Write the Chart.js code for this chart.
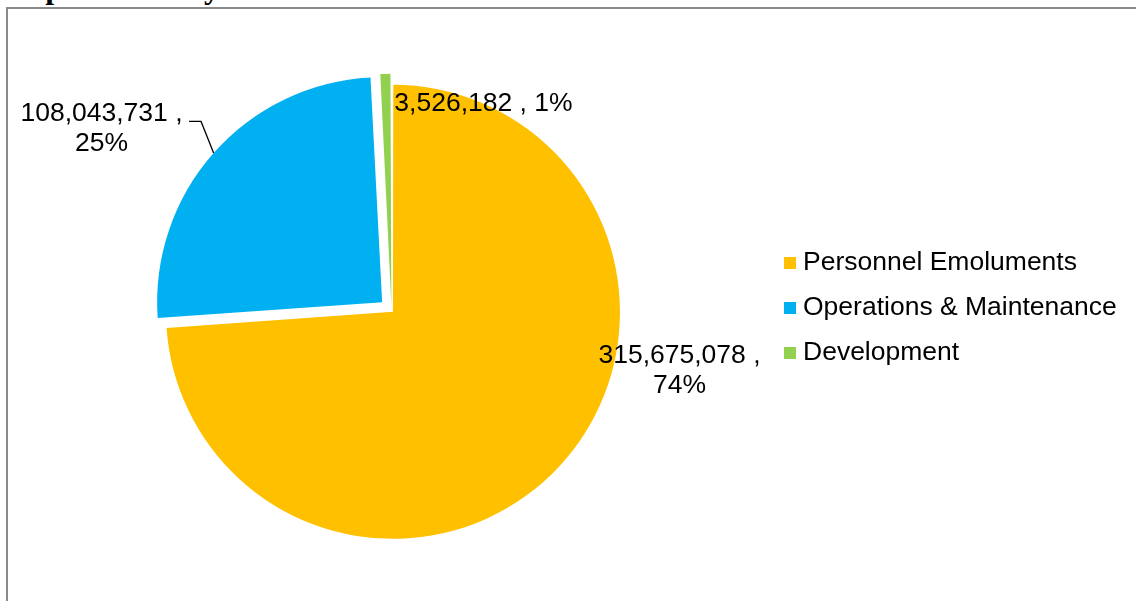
<!DOCTYPE html>
<html>
<head>
<meta charset="utf-8">
<title>Expenditure by Economic Classification</title>
<script src="https://cdn.jsdelivr.net/npm/chart.js@4.4.1/dist/chart.umd.min.js"></script>
<style>
  html, body { margin: 0; padding: 0; background: #fff; overflow: hidden; width: 1136px; height: 601px; }
  #title {
    position: absolute; left: 8px; top: -29px;
    font: bold 32px "Liberation Serif", "Times New Roman", serif;
    line-height: 32px; white-space: nowrap; color: #000;
  }
  #frame {
    position: absolute; left: 6px; top: 7px; width: 1200px; height: 700px;
    border-top: 2px solid #8a8a8a; border-left: 2px solid #8a8a8a;
  }
  #wrap { position: absolute; left: 0; top: 0; width: 1136px; height: 601px; }
</style>
</head>
<body>
<div id="title">Expenditure by Economic Classification - Health Sanitation</div>
<div id="frame"></div>
<div id="wrap"><canvas id="pie" width="1136" height="601"></canvas></div>
<script>
// Spending by economic classification (KES)
const categories = ['Personnel Emoluments', 'Operations & Maintenance', 'Development'];
const amounts = [315675078, 108043731, 3526182];
const sliceColors = ['#FFC000', '#00B0F0', '#92D050'];
// exploded slices
const sliceOffsets = [8, 50, 24];

const FONT = '26.5px "Liberation Sans", Arial, sans-serif';
const total = amounts.reduce((a, b) => a + b, 0);
const fmt = v => v.toLocaleString('en-US');
const pct = v => Math.round(v / total * 100) + '%';

// Label layout per slice: block centre relative to the pie centre, line split, optional leader
const labelLayout = [
  { dx: 288, dy: 60, twoLines: true },
  { dx: -290, dy: -182, twoLines: true, leader: { elbowDx: -12.6, elbowDy: -31.7, tail: 12 } },
  { dx: 92, dy: -207, twoLines: false }
];
const LINE_H = 30;

// Geometry of an exploded arc as Chart.js draws it
function arcGeometry(arc) {
  const p = arc.getProps(['x', 'y', 'startAngle', 'endAngle', 'outerRadius', 'circumference']);
  const off = (arc.options.offset || 0) / 4;
  const mid = (p.startAngle + p.endAngle) / 2;
  const fix = 1 - Math.sin(Math.min(Math.PI, p.circumference || 0));
  return {
    cx: p.x + Math.cos(mid) * off,
    cy: p.y + Math.sin(mid) * off,
    r: p.outerRadius + off * fix,
    mid, baseX: p.x, baseY: p.y
  };
}

const sliceLabels = {
  id: 'sliceLabels',
  afterDatasetsDraw(chart) {
    const ctx = chart.ctx;
    const meta = chart.getDatasetMeta(0);
    const values = chart.data.datasets[0].data;
    ctx.save();
    ctx.font = FONT;
    ctx.fillStyle = '#000';
    ctx.textAlign = 'center';
    ctx.textBaseline = 'middle';
    meta.data.forEach((arc, i) => {
      const g = arcGeometry(arc);
      const L = labelLayout[i];
      const v = values[i];
      const lines = L.twoLines ? [fmt(v) + ' ,', pct(v)] : [fmt(v) + ' , ' + pct(v)];
      const bx = g.baseX + L.dx;
      const by = g.baseY + L.dy;
      const top = by - (lines.length - 1) * LINE_H / 2;
      lines.forEach((t, k) => ctx.fillText(t, bx, top + k * LINE_H));
      if (L.leader) {
        const ex = g.cx + Math.cos(g.mid) * g.r;
        const ey = g.cy + Math.sin(g.mid) * g.r;
        const kx = ex + L.leader.elbowDx;
        const ky = ey + L.leader.elbowDy;
        ctx.beginPath();
        ctx.strokeStyle = '#000';
        ctx.lineWidth = 1.3;
        ctx.moveTo(ex, ey);
        ctx.lineTo(kx, ky);
        ctx.lineTo(kx - L.leader.tail, ky);
        ctx.stroke();
      }
    });
    ctx.restore();
  }
};

// Legend column to the right of the pie
const sideLegend = {
  id: 'sideLegend',
  afterDraw(chart) {
    const ctx = chart.ctx;
    const ds = chart.data.datasets[0];
    const x = 784, y0 = 263, gap = 45, box = 12, textGap = 7;
    ctx.save();
    ctx.font = FONT;
    ctx.textAlign = 'left';
    ctx.textBaseline = 'middle';
    chart.data.labels.forEach((lab, i) => {
      const y = y0 + i * gap;
      ctx.fillStyle = ds.backgroundColor[i];
      ctx.fillRect(x, y - box / 2, box, box);
      ctx.fillStyle = '#000';
      ctx.fillText(lab, x + box + textGap, y);
    });
    ctx.restore();
  }
};

new Chart(document.getElementById('pie'), {
  type: 'pie',
  data: {
    labels: categories,
    datasets: [{
      data: amounts,
      backgroundColor: sliceColors,
      borderWidth: 0,
      offset: sliceOffsets,
      hoverOffset: 0
    }]
  },
  options: {
    responsive: false,
    devicePixelRatio: 1,
    animation: false,
    events: [],
    radius: 225,
    layout: { padding: { left: 0, right: 353, top: 20, bottom: 0 } },
    plugins: { legend: { display: false }, tooltip: { enabled: false } }
  },
  plugins: [sliceLabels, sideLegend]
});
</script>
</body>
</html>
